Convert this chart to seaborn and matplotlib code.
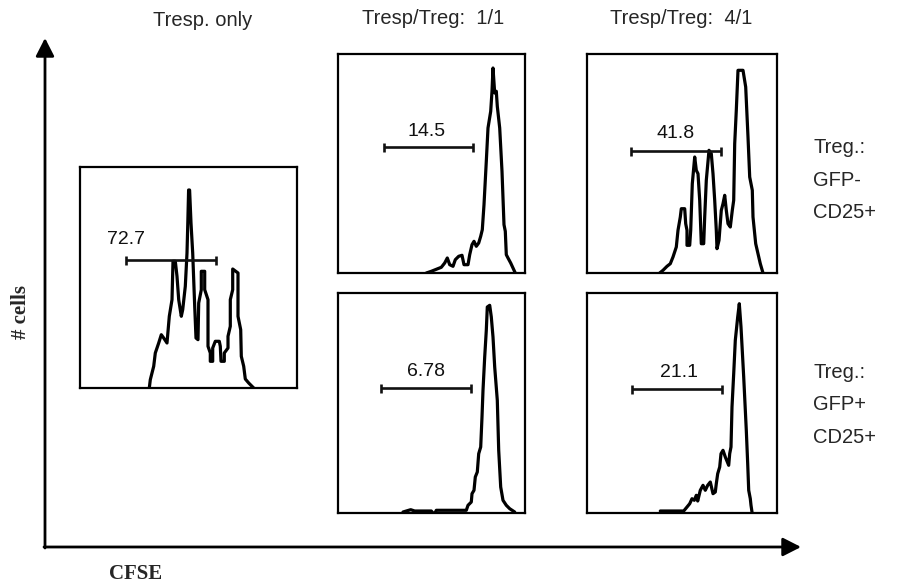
import matplotlib
matplotlib.use("Agg")
import matplotlib.pyplot as plt
import seaborn as sns

sns.set_theme(style="white")
plt.rcParams['font.family'] = ['Liberation Sans', 'DejaVu Sans']

# ---------------- data ----------------
col_titles = ["Tresp. only", "Tresp/Treg:  1/1", "Tresp/Treg:  4/1"]
row_labels = ["Treg.:\nGFP-\nCD25+", "Treg.:\nGFP+\nCD25+"]
x_label = "CFSE"
y_label = "# cells"

# CFSE (x) and cell count (y) traces of each histogram
p1_cfse = [69.3, 70.3, 73.7, 75.3, 78.7, 81.3, 83.7, 87, 89.3, 92, 93, 95.3, 97, 98.7, 101.3,
           102.7, 105.3, 107, 107.8, 108.6, 109.6, 111, 112.7, 114.7, 116, 118, 118.7, 121.3,
           121.3, 124.7, 124.7, 128, 128, 130.3, 130.3, 132.7, 132.7, 135.3, 139.3, 140.3, 141,
           144.3, 144.3, 148, 148, 150.3, 150.3, 152.7, 152.7, 158, 158, 160.7, 161.3, 163.7,
           165.3, 168.7, 172, 173.7]
p1_count = [0, 8.3, 21.7, 35, 45, 53.3, 50, 45, 71.7, 88.3, 126.7, 126.7, 111.7, 88.3, 71.7,
            78.3, 101.7, 135, 165, 198, 198, 165, 135, 81.7, 50, 48.3, 85, 98.3,
            116.7, 116.7, 98.3, 88.3, 41.7, 35, 26.7, 26.7, 40, 46.7, 46.7, 41.7, 26.7,
            26.7, 35, 40, 51.7, 61.7, 88.3, 98.3, 119, 115, 71.7, 58.3, 31.7, 21.7,
            9, 5, 1.7, 0]

p2_cfse = [88.3, 93.3, 103.3, 106.7, 109.3, 111.7, 115, 117.3, 120.7, 124, 126, 130, 131.7,
           134, 136, 138.3, 140.7, 142.7, 144.3, 146, 148.3, 150, 152.7, 154, 155, 156.7,
           158.3, 159.3, 161.7, 164, 166, 167.3, 168.3, 170, 172.7, 175, 177.3]
p2_count = [0, 1.7, 5.7, 10, 15, 8.3, 6.7, 13.3, 16.7, 17.7, 8.3, 8.3, 18.3,
            28.3, 31.7, 26.7, 30, 36.7, 43.3, 68.3, 111.7, 145, 161.7, 181.7, 205, 180,
            181.7, 166.7, 145, 101.7, 48.3, 41.7, 18.3, 15, 10, 5, 0]

p3_cfse = [72.7, 76, 80, 83.3, 86, 89.3, 91, 93.3, 94.3, 97.7, 98.7, 100, 100, 102.7, 103.7,
           105.3, 107.7, 109.3, 111, 112.7, 114.3, 116.7, 117.7, 119.3, 122, 124.3, 126,
           127.7, 129.3, 130, 132, 134.3, 136, 137.7, 139.3, 141, 143.3, 145.3, 146.7,
           147.7, 149.3, 151, 156, 158.7, 161, 162.7, 165.3, 166, 168.7, 171, 173.3, 176]
p3_count = [0, 2.7, 6.7, 9.3, 16, 26, 42.7, 56, 64.3, 64.3, 49.3, 42.7, 27.7, 27.7, 42.7,
            89.3, 116, 102.7, 99.3, 72.7, 29.3, 29.3, 56, 92.7, 122.7, 119.3, 99.3,
            72.7, 42.7, 24.3, 32.7, 62.7, 69.3, 77.7, 62.7, 49.3, 46, 62.7, 72.7,
            129.3, 162.7, 202.7, 202.7, 186, 136, 96, 82.7, 56, 29.3, 19.3, 9.3, 0]

p4_cfse = [65, 72.7, 76.7, 93.3, 95, 97, 98.3, 128.3, 130, 133.3, 134, 136, 137.3, 139.3,
           140.7, 142.7, 144, 145, 146.7, 148.3, 149.3, 151.7, 153.3, 155, 156.7, 159.3,
           160.7, 162.7, 165, 168.3, 171.7, 176.7]
p4_count = [1, 3.3, 2, 2, 0, 0, 2.7, 2.7, 7.7, 11, 19.3, 22.7, 36, 41,
            59.3, 66, 96, 122.7, 156, 182.7, 206, 207.7, 196, 176, 146, 112.7,
            62.7, 26, 12.7, 7.7, 4.3, 1]

p5_cfse = [73.3, 96.7, 100, 102.7, 105, 107.3, 109.3, 110.7, 113.3, 116, 118.3, 120.7, 123.3,
           126, 128.3, 129.3, 130.7, 132.7, 134, 136, 138.3, 141.7, 142.7, 144, 145,
           146.7, 148.3, 150.7, 152.3, 154, 156.7, 159.3, 160.7, 161.7, 163.3, 164, 165]
p5_count = [2, 2, 6, 9.3, 14.3, 12.7, 17.7, 12, 22.7, 27.7, 22.7, 27.7, 31,
            19.3, 21, 29.3, 39.3, 46, 59.3, 62.7, 56, 47.7, 59.3, 66, 106,
            139.3, 172.7, 196, 209.3, 186, 136, 82.7, 49.3, 22.7, 14.3, 7.7, 1]

hist_cfse = [p1_cfse, p2_cfse, p3_cfse, p4_cfse, p5_cfse]
hist_count = [p1_count, p2_count, p3_count, p4_count, p5_count]

# proliferation gates (CFSE range, drawn height) and percentages
gate_lo = [46.3, 46, 44.3, 43.3, 45]
gate_hi = [136, 135, 134.3, 132.7, 135]
gate_level = [127.7, 125.7, 122, 125, 123.7]
gate_pct = ["72.7", "14.5", "41.8", "6.78", "21.1"]

# ---------------- layout (pixels) ----------------
W, H = 909, 586
panel_px = [(80, 167, 217, 221), (338, 54, 187, 219), (587, 54, 190, 219),
            (338, 293, 187, 220), (587, 293, 190, 220)]
label_off = [(46, 148), (89, 142), (89, 140), (88, 142), (92, 141)]

fig = plt.figure(figsize=(W / 100, H / 100), dpi=100)
fig.patch.set_facecolor("white")

canvas = fig.add_axes([0, 0, 1, 1])
canvas.set_xlim(0, W)
canvas.set_ylim(H, 0)
canvas.axis("off")
canvas.set_zorder(0)

for i, (l, t, w, h) in enumerate(panel_px):
    ax = fig.add_axes([l / W, 1 - (t + h) / H, w / W, h / H])
    ax.set_zorder(2)
    ax.set_facecolor("white")
    sns.lineplot(x=hist_cfse[i], y=hist_count[i], ax=ax, color="black", lw=2.3,
                 sort=False, estimator=None)
    ax.set_xlim(0, w)
    ax.set_ylim(0, h)
    ax.set_xticks([])
    ax.set_yticks([])
    ax.set_xlabel("")
    ax.set_ylabel("")
    for s in ax.spines.values():
        s.set_visible(True)
        s.set_color("black")
        s.set_linewidth(1.6)
    ax.hlines(gate_level[i], gate_lo[i], gate_hi[i], color="#111111", lw=1.9)
    ax.vlines([gate_lo[i], gate_hi[i]], gate_level[i] - 4.5, gate_level[i] + 4.5,
              color="#111111", lw=1.9)
    ax.text(label_off[i][0], label_off[i][1], gate_pct[i], ha="center", va="center",
            fontsize=14, color="#111111")

# column titles
title_xy = [(203, 21), (433, 18), (681, 18)]
for txt, (x, y) in zip(col_titles, title_xy):
    canvas.text(x, y, txt, ha="center", va="center", fontsize=14.5)

# row labels
for txt, y in zip(row_labels, [180, 405]):
    canvas.text(813, y, txt, ha="left", va="center", fontsize=14.5, linespacing=1.9)

# axis arrows
arrow = dict(arrowstyle="-|>,head_length=0.55,head_width=0.28", lw=2, color="black",
             mutation_scale=20, shrinkA=0, shrinkB=0)
canvas.annotate("", xy=(45, 38), xytext=(45, 548), arrowprops=arrow)
canvas.annotate("", xy=(801, 547), xytext=(44, 547), arrowprops=arrow)

canvas.text(21, 312, y_label, rotation=90, ha="center", va="center", fontsize=15,
            fontweight="bold", family=["Liberation Serif", "DejaVu Serif"])
canvas.text(136, 574, x_label, ha="center", va="center", fontsize=15,
            fontweight="bold", family=["Liberation Serif", "DejaVu Serif"])

fig.savefig("out.png", dpi=100, facecolor="white")
